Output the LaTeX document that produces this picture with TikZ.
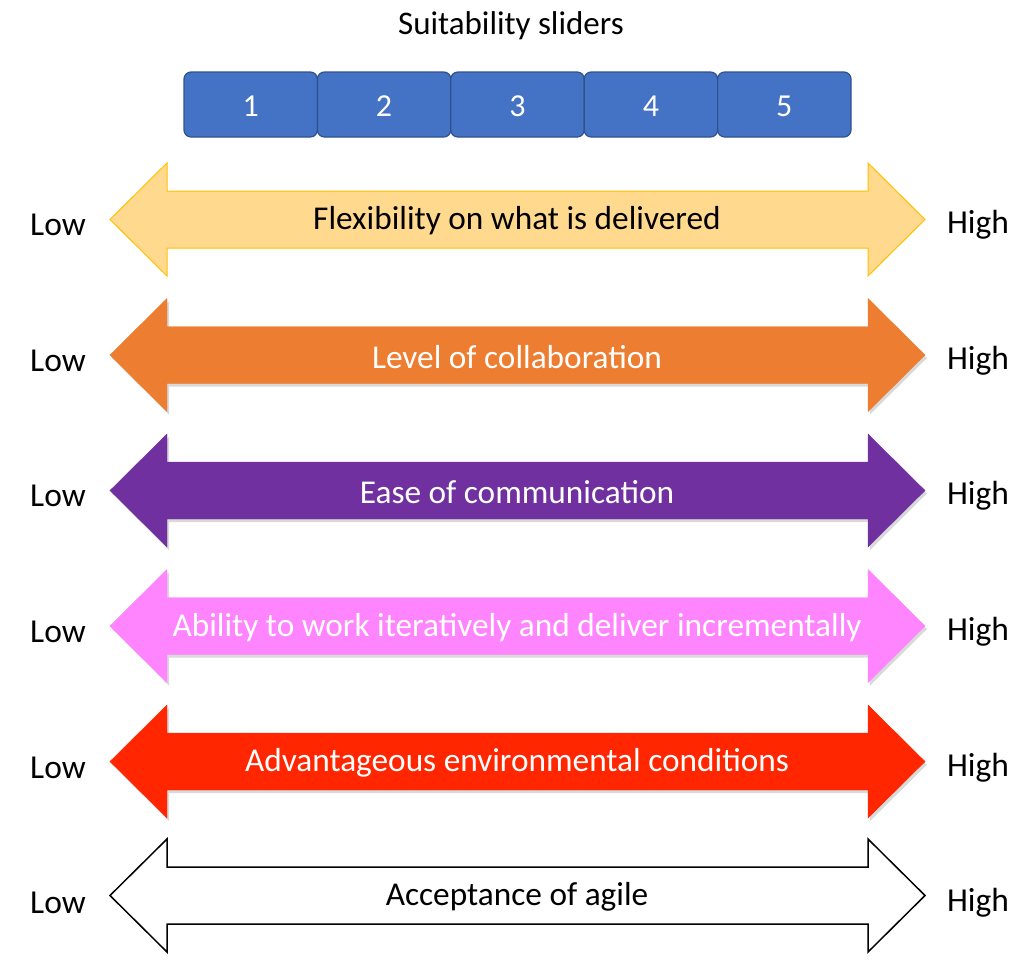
\documentclass[tikz,border=0pt]{standalone}
\usepackage{fontspec}
\setmainfont{Carlito}
\usetikzlibrary{shadows}
\definecolor{boxblue}{HTML}{4472C4}
\definecolor{boxedge}{HTML}{2F528F}
\definecolor{ayellow}{HTML}{FFD98E}
\definecolor{ayedge}{HTML}{FFC000}
\definecolor{aorange}{HTML}{ED7D31}
\definecolor{apurple}{HTML}{7030A0}
\definecolor{apink}{HTML}{FF85FF}
\definecolor{ared}{HTML}{FF2600}
\tikzset{
  slot/.style={draw=boxedge, line width=1.2pt, fill=boxblue, rounded corners=7pt},
  slotnum/.style={text=white, font=\fontsize{32}{36}\selectfont},
  shadowed/.style={drop shadow={opacity=0.3, shadow xshift=2pt, shadow yshift=-3pt}},
  lbl/.style={font=\fontsize{33.5}{38}\selectfont, text=black},
  atext/.style={font=\fontsize{33.3}{38}\selectfont},
  title/.style={font=\fontsize{33}{38}\selectfont}
}
\newcommand{\dblarrow}[2]{%
  \path[#2] (110,#1) -- (167,#1-56.5) -- (167,#1-28.5) -- (868,#1-28.5) -- (868,#1-56.5)
    -- (925,#1) -- (868,#1+56.5) -- (868,#1+28.5) -- (167,#1+28.5) -- (167,#1+56.5) -- cycle;}
\begin{document}
\begin{tikzpicture}[x=1pt,y=-1pt]
\useasboundingbox (0,0) rectangle (1024,964);
\node[title] (title) at (511,26) {Suitability sliders};
% slider boxes
\foreach \i in {1,...,5} {
  \pgfmathsetmacro{\xl}{184+133.4*(\i-1)}
  \pgfmathsetmacro{\xr}{184+133.4*\i}
  \draw[slot] (\xl,72) rectangle (\xr,137);
  \node[slotnum] (s\i) at ({(\xl+\xr)/2},106) {\i};
}
% arrows
\dblarrow{219.5}{fill=ayellow, draw=ayedge, line width=1pt}
\node[atext] (a1) at (517,221) {Flexibility on what is delivered};
\dblarrow{355}{fill=aorange, draw=aorange, shadowed}
\node[atext, text=white] (a2) at (517,357) {Level of collaboration};
\dblarrow{490.5}{fill=apurple, draw=apurple, shadowed}
\node[atext, text=white] (a3) at (517,492) {Ease of communication};
\dblarrow{626}{fill=apink, draw=apink, shadowed}
\node[atext, text=white] (a4) at (517,628) {Ability to work iteratively and deliver incrementally};
\dblarrow{761.5}{fill=ared, draw=ared, shadowed}
\node[atext, text=white] (a5) at (517,763) {Advantageous environmental conditions};
\dblarrow{895.5}{fill=white, draw=black, line width=1.5pt}
\node[atext] (a6) at (517,897) {Acceptance of agile};
% labels
\foreach \y [count=\k] in {225,361,496,632,768,903} {
  \node[lbl] (low\k) at (58,\y) {Low};
  \node[lbl] (high\k) at (978,\y) {High};
}
\end{tikzpicture}
\end{document}
